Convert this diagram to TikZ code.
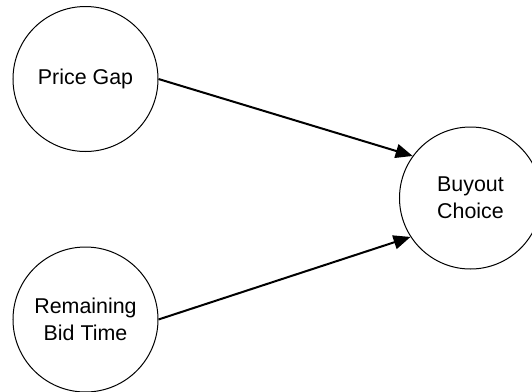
\documentclass[tikz,border=0pt]{standalone}
\usepackage{fontspec}
\setmainfont{Liberation Sans}
\usetikzlibrary{arrows.meta}

\begin{document}
\begin{tikzpicture}[
  x=0.5pt, y=-0.5pt,
  font=\fontsize{10.7}{13.3}\selectfont,
  >={Triangle[length=8.5pt,width=7pt]},
  factor/.style={draw, circle, line width=0.5pt, align=center,
    minimum size=72.5pt, inner sep=0pt},
  outcome/.style={factor, minimum size=71pt},
  effect/.style={->, line width=1pt, draw=black}
]
  \useasboundingbox (0,0) rectangle (532,392);

  \node[factor] (gap) at (85.5,79) {Price Gap};
  \node[factor] (bid) at (85.5,319.5) {Remaining\\Bid Time};
  \node[outcome] (choice) at (470.5,198) {Buyout\\Choice};

  \draw[effect] (gap.east) -- (choice.144);
  \draw[effect] (bid.east) -- (choice.213);
\end{tikzpicture}
\end{document}
